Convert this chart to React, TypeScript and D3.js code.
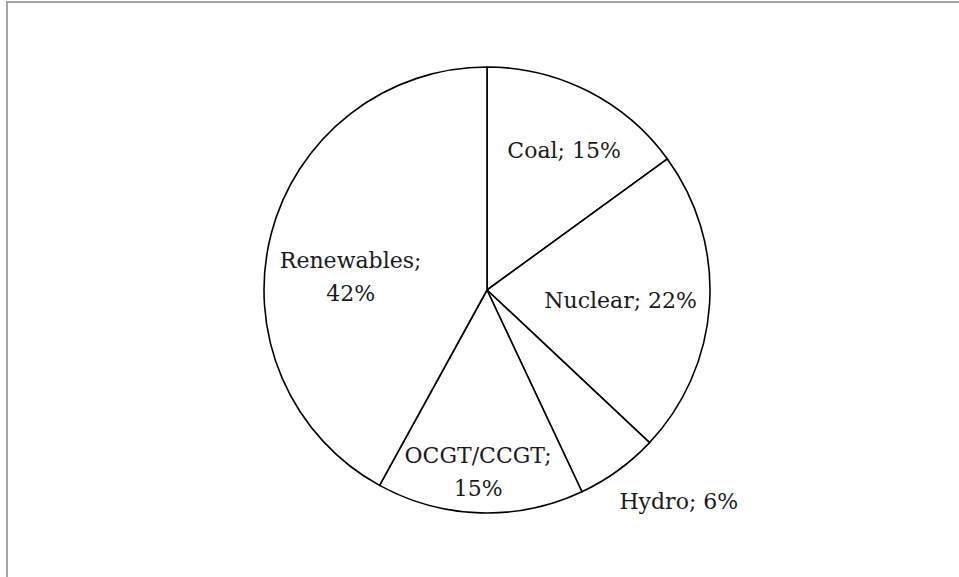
import * as d3 from 'd3';

const categories = ['Coal', 'Nuclear', 'Hydro', 'OCGT/CCGT', 'Renewables'];
const shares = [15, 22, 6, 15, 42];
// how each label is written (line breaks as in the source)
const labelLines = [['Coal; 15%'], ['Nuclear; 22%'], ['Hydro; 6%'], ['OCGT/CCGT;', '15%'], ['Renewables;', '42%']];

// label placement: radius from centre and shift from the slice mid-angle (degrees)
const labelLayout: Record<string, { r: number; shift: number }> = {
  Coal: { r: 160, shift: 1.8 },
  Nuclear: { r: 134, shift: 0.7 },
  Hydro: { r: 285, shift: -6.3 },
  'OCGT/CCGT': { r: 182, shift: 1.0 },
  Renewables: { r: 137, shift: -8.9 },
};

export default function App() {
  const width = 959;
  const height = 577;
  const cx = 487;
  const cy = 290;
  const radius = 223;
  const fontSize = 22;
  const lineGap = 33;

  const data = categories.map((c, i) => ({ name: c, value: shares[i], lines: labelLines[i] }));

  const pie = d3
    .pie<{ name: string; value: number; lines: string[] }>()
    .value((d) => d.value)
    .sort(null);
  const arcs = pie(data);

  const arc = d3.arc<d3.PieArcDatum<any>>().innerRadius(0).outerRadius(radius);

  return (
    <svg
      width={width}
      height={height}
      style={{ position: 'fixed', left: 0, top: 0, display: 'block', background: '#fff' }}
    >
      {/* frame: only top and left edges show */}
      <line x1={7} y1={1} x2={7} y2={height} stroke='#a6a6a6' strokeWidth={2} />
      <line x1={6} y1={2} x2={width} y2={2} stroke='#a6a6a6' strokeWidth={2} />

      <g transform={`translate(${cx},${cy})`}>
        {arcs.map((a) => (
          <path key={a.data.name} d={arc(a) ?? ''} fill='#fff' stroke='#000' strokeWidth={1.6} strokeLinejoin='round' />
        ))}
        {arcs.map((a) => {
          const lay = labelLayout[a.data.name];
          const ang = (a.startAngle + a.endAngle) / 2 + (lay.shift * Math.PI) / 180;
          const x = Math.sin(ang) * lay.r;
          const y = -Math.cos(ang) * lay.r;
          const n = a.data.lines.length;
          return (
            <text
              key={'l' + a.data.name}
              x={x}
              y={y}
              textAnchor='middle'
              fontFamily="'DejaVu Serif', serif"
              fontSize={fontSize}
              fill='#1a1a1a'
            >
              {a.data.lines.map((t, j) => (
                <tspan key={j} x={x} y={y + 8 + (j - (n - 1) / 2) * lineGap}>
                  {t}
                </tspan>
              ))}
            </text>
          );
        })}
      </g>
    </svg>
  );
}
